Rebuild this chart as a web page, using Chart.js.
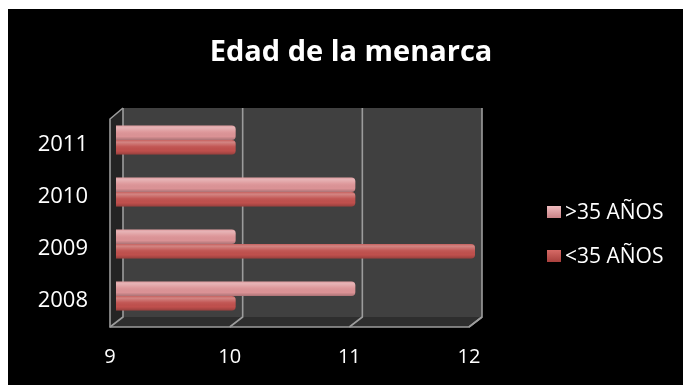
<!DOCTYPE html>
<html>
<head>
<meta charset="utf-8">
<style>
  html, body { margin: 0; padding: 0; background: #ffffff; }
  #wrap { width: 683px; height: 385px; }
</style>
<script src="https://cdn.jsdelivr.net/npm/chart.js@4/dist/chart.umd.min.js"></script>
</head>
<body>
<div id="wrap"><canvas id="c" width="683" height="385"></canvas></div>
<script>
// Age at menarche by year, split by mother's age group
const years = ['2008', '2009', '2010', '2011'];
const over35 = [11, 10, 11, 10];
const under35 = [10, 12, 11, 10];
const xTicks = [9, 10, 11, 12];
const titleText = 'Edad de la menarca';
const seriesNames = ['>35 AÑOS', '<35 AÑOS'];

const FONT = "'Open Sans', 'DejaVu Sans', sans-serif";
const LIGHT = '#dc9396';
const DARK = '#c0504d';

// Black panel with white margin
const panelBg = {
  id: 'panelBg',
  beforeDraw(chart) {
    const ctx = chart.ctx;
    ctx.save();
    ctx.fillStyle = '#ffffff';
    ctx.fillRect(0, 0, chart.width, chart.height);
    ctx.fillStyle = '#000000';
    ctx.fillRect(8, 9, chart.width - 8, chart.height - 9);
    ctx.restore();
  }
};

// Pseudo-3D walls, floor and gridlines drawn from the x scale
const frame3d = {
  id: 'frame3d',
  beforeDatasetsDraw(chart) {
    const ctx = chart.ctx;
    const xs = chart.scales.x;
    const a = chart.chartArea;
    const fx = -6, fy = 5, bx = 7, by = -6;
    const x0 = xs.getPixelForValue(xTicks[0]);
    const x1 = xs.getPixelForValue(xTicks[xTicks.length - 1]);
    const top = a.top, bot = a.bottom;
    ctx.save();
    // back wall
    ctx.fillStyle = '#404040';
    ctx.fillRect(x0 + bx, top + by, x1 - x0, (bot - 5) - (top + by));
    // left side wall
    ctx.fillStyle = '#242424';
    ctx.beginPath();
    ctx.moveTo(x0 + fx, top + fy);
    ctx.lineTo(x0 + bx, top + by);
    ctx.lineTo(x0 + bx, bot - 5);
    ctx.lineTo(x0 + fx, bot + fy);
    ctx.closePath();
    ctx.fill();
    // floor
    ctx.fillStyle = '#2e2e2e';
    ctx.beginPath();
    ctx.moveTo(x0 + fx, bot + fy);
    ctx.lineTo(x1 + fx, bot + fy);
    ctx.lineTo(x1 + bx, bot - 5);
    ctx.lineTo(x0 + bx, bot - 5);
    ctx.closePath();
    ctx.fill();

    ctx.strokeStyle = '#9c9c9c';
    ctx.lineWidth = 1.6;
    // gridlines on back wall and floor
    xTicks.forEach(v => {
      const p = xs.getPixelForValue(v);
      ctx.beginPath();
      ctx.moveTo(p + bx, top + by);
      ctx.lineTo(p + bx, bot - 5);
      ctx.lineTo(p + fx, bot + fy);
      ctx.stroke();
    });
    // front edges
    ctx.beginPath();
    ctx.moveTo(x0 + bx, top + by);
    ctx.lineTo(x0 + fx, top + fy);
    ctx.lineTo(x0 + fx, bot + fy);
    ctx.lineTo(x1 + fx, bot + fy);
    ctx.lineTo(x1 + bx, bot - 5);
    ctx.stroke();
    ctx.restore();
  },
  // glossy cylinder shading over each bar
  afterDatasetsDraw(chart) {
    const ctx = chart.ctx;
    const a = chart.chartArea;
    chart.data.datasets.forEach((ds, i) => {
      const meta = chart.getDatasetMeta(i);
      meta.data.forEach(el => {
        const h = el.height;
        const yT = el.y - h / 2;
        const xL = Math.max(Math.min(el.base, el.x), a.left);
        const xR = Math.max(el.base, el.x);
        const g = ctx.createLinearGradient(0, yT, 0, yT + h);
        g.addColorStop(0, 'rgba(255,255,255,0.10)');
        g.addColorStop(0.15, 'rgba(255,255,255,0.30)');
        g.addColorStop(0.45, 'rgba(255,255,255,0.05)');
        g.addColorStop(0.75, 'rgba(0,0,0,0.0)');
        g.addColorStop(1, 'rgba(0,0,0,0.22)');
        ctx.save();
        ctx.beginPath();
        const r = Math.min(4, h / 2);
        ctx.moveTo(xL, yT);
        ctx.lineTo(xR - r, yT);
        ctx.quadraticCurveTo(xR, yT, xR, yT + r);
        ctx.lineTo(xR, yT + h - r);
        ctx.quadraticCurveTo(xR, yT + h, xR - r, yT + h);
        ctx.lineTo(xL, yT + h);
        ctx.closePath();
        ctx.fillStyle = g;
        ctx.fill();
        ctx.restore();
      });
    });
  },
  // title and legend
  afterDraw(chart) {
    const ctx = chart.ctx;
    ctx.save();
    ctx.fillStyle = '#ffffff';
    ctx.textAlign = 'center';
    ctx.textBaseline = 'middle';
    ctx.font = 'bold 29px ' + FONT;
    ctx.fillText(titleText, 351, 53);

    ctx.textAlign = 'left';
    ctx.font = '21px ' + FONT;
    const ys = [212, 256];
    chart.data.datasets.forEach((ds, i) => {
      const cy = ys[i];
      const g = ctx.createLinearGradient(0, cy - 6, 0, cy + 6);
      g.addColorStop(0, i === 0 ? '#f0bcbf' : '#d66a66');
      g.addColorStop(1, i === 0 ? '#c98286' : '#a8403d');
      ctx.fillStyle = g;
      ctx.fillRect(547, cy - 6, 14, 12);
      ctx.fillStyle = '#ffffff';
      ctx.fillText(ds.label, 565, cy + 1);
    });
    ctx.restore();
  }
};

new Chart(document.getElementById('c'), {
  type: 'bar',
  data: {
    labels: years,
    datasets: [
      { label: seriesNames[0], data: over35, backgroundColor: LIGHT },
      { label: seriesNames[1], data: under35, backgroundColor: DARK }
    ]
  },
  options: {
    indexAxis: 'y',
    responsive: false,
    animation: false,
    devicePixelRatio: 1,
    layout: { padding: { left: 8, top: 114, right: 208, bottom: 0 } },
    datasets: {
      bar: {
        categoryPercentage: 0.56,
        barPercentage: 1.0,
        borderRadius: { topRight: 4, bottomRight: 4 },
        borderSkipped: false,
        borderWidth: 0
      }
    },
    scales: {
      x: {
        min: 9, max: 12,
        afterFit(s) { s.height = 63; },
        afterBuildTicks(s) { s.ticks = xTicks.map(v => ({ value: v })); },
        grid: { display: false, drawTicks: false },
        border: { display: false },
        ticks: {
          color: '#ffffff',
          font: { family: FONT, size: 20 },
          padding: 23,
          labelOffset: -6
        }
      },
      y: {
        reverse: true,
        afterFit(s) { s.width = 108; },
        grid: { display: false, drawTicks: false },
        border: { display: false },
        ticks: {
          color: '#ffffff',
          font: { family: FONT, size: 22 },
          padding: 28,
          labelOffset: 5
        }
      }
    },
    plugins: {
      legend: { display: false },
      title: { display: false },
      tooltip: { enabled: false }
    }
  },
  plugins: [panelBg, frame3d]
});
</script>
</body>
</html>
